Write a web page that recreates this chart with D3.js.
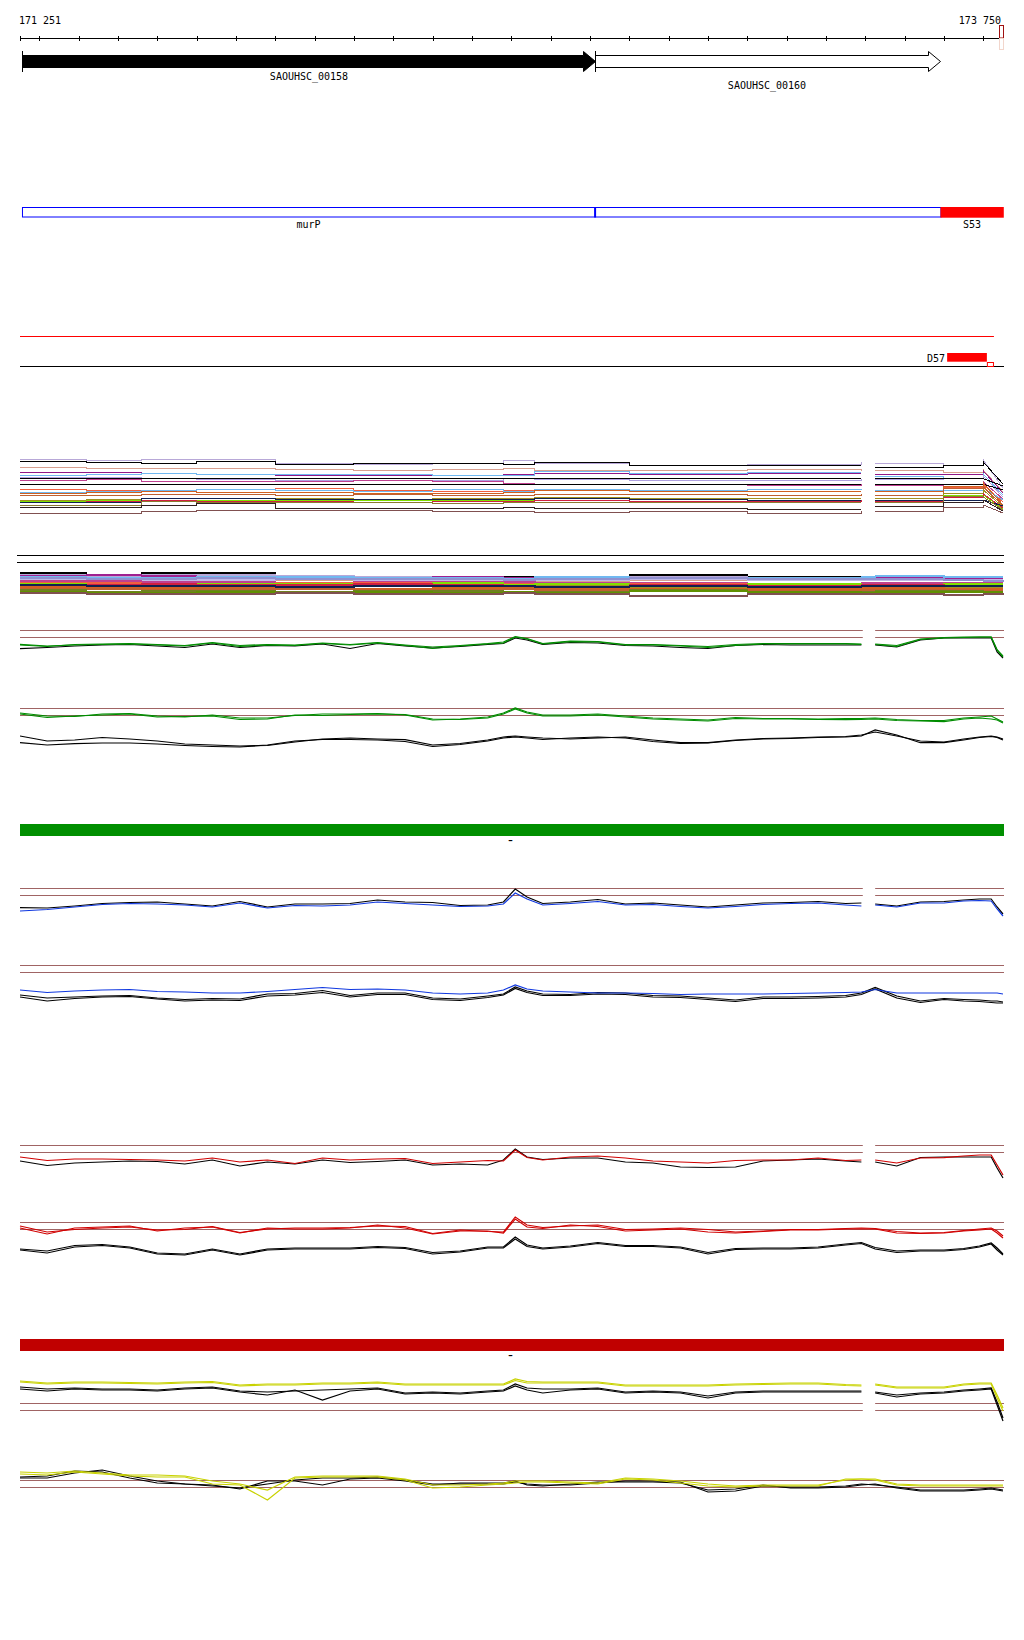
<!DOCTYPE html>
<html><head><meta charset="utf-8">
<script src="https://cdn.jsdelivr.net/npm/d3@7"></script>
<style>
body{margin:0;background:#fff}
svg{display:block}
text{font-family:"DejaVu Sans Mono",monospace;font-size:10px;fill:#000}
</style>
</head><body>
<svg id="c" width="1024" height="1640"></svg>
<script>
// ---------------- DATA ----------------
const regionStart = 171251, regionEnd = 173750;
const rulerLabels = ["171 251", "173 750"];
const tickStep = 100;
const gapStart = 173391, gapEnd = 173425;

const geneNames = ["SAOUHSC_00158", "SAOUHSC_00160"];
const geneStarts = [171256, 172713];
const geneEnds = [172713, 173591];

const operonNames = ["murP", "S53"];
const operonStarts = [171256, 173591];
const operonEnds = [173591, 173752];
const operonSplit = 172713;

const siteName = "D57";
const siteStart = 173608, siteEnd = 173709, siteMarkEnd = 173727;
const redLineEnd = 173727;

// sample positions (bp) for signal tracks
const pos = [171251,171320,171390,171460,171530,171600,171670,171740,171810,171880,171950,172020,172090,172160,172230,172300,172370,172440,172480,172510,172540,172580,172650,172720,172790,172860,172930,173000,173070,173140,173210,173280,173350,173390,173425,173480,173540,173600,173650,173690,173720,173735,173750];
// positions for multi-sample tracks
const posM = [171251,171420,171560,171700,171900,172100,172300,172480,172560,172800,173100,173390,173425,173600,173700,173750];

// Track A (multi-sample, 20 series)
const A1 = [9,10,9,9,13,14,13,10,13,15,14,12,13,15,10,38];
const A2 = [11.5,12,13,11.5,14,13,13,14,12,15,15,15,17,15,12,34];
const A3 = [17.5,18,18,18,19.5,20,19.5,18,20,20,19,21,20,22,20,42];
const A4 = [22,22,23,24,25,25,25,24,23,24,23,23,24,24,21,43];
const A5 = [25,24,23,24,24,24,25,25,21,23,22,22,26,28,24,45];
const A6 = [27,27,28,29,30,30,30,28,29,30,30,29,29,28,26,47];
const A7 = [28.7,28.7,28.7,28.7,28.7,28.7,28.7,28.7,28.7,28.7,28.7,28.7,28.7,28.7,28.7,36];
const A8 = [30,29.5,31,31,31,30,31,33,34,34,35,34,35,34,32,49];
const A9 = [34.3,34.3,34.3,34.3,34.3,34.3,34.3,34.3,34.3,34.3,34.3,34.3,34.3,34.3,34.3,40];
const A10 = [39.5,40,40,39,38,40,41,40,40,41,39,39,40,37,35,52];
const A11 = [42,41,40,39,40,41,39,41,39,40,39,40,40,40,38,50];
const A12 = [43,42,41,42,42,43,43,42,40,41,41,41,41,36,33,55];
const A13 = [45,45,44,44,45,44,45,45,44,44,45,44,45,38,37,56];
const A14 = [50,49,48,48,48,49,48,48,47,48,48,48,48,43,40,57];
const A15 = [51,50,50,50,50,50,50,50,50,51,50,50,50,45,45,59];
const A16 = [52,51,50,51,51,52,51,51,50,51,51,50,51,47,44,58];
const A17 = [52,52,48,48,49,49,49,49,48,49,50,50,50,50,50,56];
const A18 = [55,55,51,52,52,52,53,52,52,52,52,52,52,46,47,60];
const A19 = [57.5,57,55,53.5,58,58,58,57,58,58,59,59,56,52,50,61];
const A20 = [63,63,61,60,60,60,61,61,62,61,63,61,61,57,55,63];

// Track B (multi-sample, 18 series) + 2 reference lines
const B_ref = [5.3, 12.3];
const B1 = [23,25,23,23,26,27,27,27,27,25,27,27,27,27,27,27];
const B2 = [25,26,25,25,26,27,28,28,28,27,28,29,29,29,29,29];
const B3 = [26,25,26,27,28,28,27,28,28,29,29,28,28,28,28,28];
const B4 = [27,28,28,27,27,28,28,29,27,28,28,27,26,27,27,27];
const B5 = [29,29,30,31,30,30,30,31,31,30,30,30,30,30,31,31];
const B6 = [30,31,30,30,29,30,31,30,30,29,30,30,30,30,30,30];
const B7 = [31,31,32,32,33,32,32,32,33,33,34,33,33,33,32,32];
const B8 = [33,33,34,34,33,33,34,34,35,34,35,35,35,35,35,35];
const B9 = [34,35,35,34,34,34,33,35,34,35,34,35,35,34,34,34];
const B10 = [35,35,34,35,35,34,35,36,36,35,36,35,35,36,36,36];
const B11 = [36,36,37,36,37,36,37,37,36,37,38,37,37,37,37,37];
const B12 = [37,38,38,37,38,39,38,38,39,39,39,38,38,39,39,39];
const B13 = [35,36,36,36,37,36,36,36,37,36,37,36,36,36,36,36];
const B14 = [39,39,40,39,39,40,40,39,40,40,41,40,40,40,41,41];
const B15 = [40,42,41,41,42,41,41,42,42,40,43,42,41,41,42,42];
const B16 = [42,43,43,42,43,42,43,42,43,41,42,43,42,42,42,42];
const B17 = [43,44,44,44,43,44,44,43,44,46,44,44,44,45,44,43];
const B18 = [28,29,29,28,29,29,29,30,29,28,29,29,29,30,31,30];

// Track C
const C_ref = [30.3, 37.3];
const C_black = [48.7,47.5,46,45,44.5,46,47.5,44,47.5,45.5,46,44,48.5,43.5,46,48,46.5,44.5,43.5,38,40,44.5,42.5,43,45.5,46,47.5,48.5,45.5,44.5,45,45,45,45,45,47,40,38,38,38,38,52,58];
const C_green2 = [45,46.5,44.5,44,43.5,44.5,45.5,42.5,45.5,44.5,45,43,44.5,42.5,45,47,45.5,43.5,42,36.5,38.5,43.5,41,41.5,44.5,44.5,45.5,46.5,44.5,43.5,43.5,43.5,43.5,44,44,45.5,39,37.5,37,37,37,50,56];
const C_green = [44.3,46,45,44.5,44,45,46,43,46.5,45,45.5,43.5,45,43,45.5,48.5,46,44,43,37,39,44,41.7,42,45,45,46,47.5,45.5,44,44,44,44,44.5,44.5,46.5,39.5,38,37.5,37,37,50,57];

// Track D
const D_ref = [8.3, 15.3];
const D_green = [14,17.5,16,15,14,17,16.5,16,19.5,19,15,15.5,14.5,14,14.5,19,19.5,18,14,9,13,16,16,15,17,19,20,21,18.5,19,19,19.5,19.7,19.5,19,20.5,21,21.7,19,18,19,20,23];
const D_green2 = [13,16,16.5,14,13.5,16,17,15,18,18,15.5,14,14,13.5,15,20,19,17,13,8,12,15,15,14,16,18,19,20,17.5,18.5,18.5,19,18.5,18.5,18,19.5,20.5,20.5,18,17,16,19,22];
const D_black1 = [36,41,40,37.5,39,41,44,45,46,45.5,42,39,38,39,39.7,45,43.5,40,37,36,37,38,39,38,37,40,42.7,42.7,40,38.5,38,37,36.5,35,32,36,41,42,39,37,36,37,39];
const D_black2 = [42.7,45,43.7,43,43,44,45.5,46.5,47,45,41,39.5,39.5,40,41.5,46.5,44.5,41,38,37,38,39.5,38,37,38,41.5,43.5,43,40.5,39,38.5,37.5,37,36,30,35,42.7,42.7,40,37.5,36.5,37.5,40];

// Track E
const E_ref = [8.3, 15.3];
const E_black = [27.7,28,26,23.5,22.5,22,24,26,21.5,27,24,24,23.5,20,22,22.5,25.5,25,22,9,17,23.5,22,19.5,24,23,25,27,25,23,22.5,21.5,23.5,23,24,26,22,21.5,20,19,19,27,34];
const E_blue = [31,29.5,27,24.5,23.5,24,25,27,23,28,25.5,26,25,22,23.5,25,26.5,26,24,13,19,25,23.5,21.5,25,24.5,26.5,28,26.5,24.5,23.5,23,25,26,25,27,23,23,21,20.5,21,29,36];

// Track F
const F_ref = [5.3, 12.3];
const F_black1 = [35,38,37,36,35.5,38,39.5,38.5,39,34,33.5,30.5,35.5,33,33,38,39,36,34,27,31,34,34.5,32.5,33,35.5,36,38,40,37,37,36.5,35.5,33,27.5,36,41,38.5,39.5,40,41,41,42];
const F_black2 = [37,41,38.5,37,36.5,39,41,40,40.5,36,35,32.5,37,34.5,34.5,39.5,40.5,37.5,35,28.5,32.5,35.5,35.5,34,34.5,37,37.5,39.5,41.5,38.5,38.5,38,37,34.5,29,38,42.5,39.5,41,41.5,42.5,43,43];
const F_blue = [30,32.5,31,30,29.5,31.5,32,33,33,31.5,29.5,27.5,29.5,29,30,33,34,33,30,25,29,31,32,33,33,33.5,34.5,34,34,34,33.5,33,32.5,32,29.5,33,33,33,33,33,33,33,34];

// Track G
const G_ref = [5, 12.3];
const G_black = [21,25.5,23,22,21,21.5,24,20,26,22,24,20,22.5,21.5,20,25,24,25,20,9,17,19.5,18,18,22,23,27,27.5,27,21,20,19,21,22,22,26,17.5,17,17,17,17,28,38];
const G_red = [17,20.5,19,19,19.5,20,21,18,22,20,23.5,18,20,19,18.5,23.5,22,20.5,21,10,17.5,20,17,16,18,21,22,23,20.5,20,20,18,20.5,20,20,23,18,17.7,16,15,15,25,35];

// Track H
const H_ref = [12.3, 19.3];
const H_black = [39,41,35.5,34.5,37,43,44,39,44,39,38,38,38,36.5,37.5,42.5,41,37,37,27,35,38,36,32.5,35.5,35.5,37,42.5,38.5,38,38,37,34,32.5,37.5,41,40,40,38.5,36,33,38,44];
const H_black2 = [40,43,37,35.5,38,44,45,40,45,40,39,39,39,37.5,38.5,44,42,38,38,29,36.5,39,37,33.5,36.5,36.5,38,44,39.5,39,39,38,35,33.5,39,42.5,41,41,39.5,37,34,40,45];
const H_red = [16,22,19.5,18,17,20,19.5,16.5,22.5,19,18,18,17.5,16,16.5,23.5,20,21.5,22,7,15,17.5,16,15,19.5,19,18,19.5,22,21,19.5,19.5,18.5,18,18.5,21.5,23,22.5,20.5,19,18,21,26];
const H_red2 = [18,24,18,17,16,21,18,17,23,18,19,19,18,15,18,24,21,21,23,9,17,18.5,15,16.5,21,20,19,22,23,21.5,20,20,19,19,19,23,23.5,23,21,20,19,23,28];

// Track I
const I_ref = [33, 40];
const I_black = [17,19,18,19,19,20,18,17,21,22,21,20,19,18,23,22,23,21,20,14,18,19,19,18,22,21,22,26,22,21,21,21,21,21,22,25,23,22,20,19,18,32,48];
const I_black2 = [19,21,19,20,20,21,19,18,22,25,20,30,21,19,24,23,24,22,21,16,20,23,20,19,23,22,23,28,23,22,22,22,22,22,23,27,24,23,21,20,19,35,51];
const I_yellow = [11,13,12,12,12.5,13,12,11.5,15,14,14,13,13,12,14,14,14,14,14,9,11.5,12,12,12,15,15,15,15,14,13.5,13,13,14.5,15,14,17,17,17,14,13,13,25,38];
const I_yellow2 = [12,14,13,13,13.5,14,13,12.5,16,15,15,14,14,13,15,15,15,15,15,10.5,13,13,13,13,16,16,16,16,15,14.5,14,14,15.5,16,15,18,18,18,15,14,14,28,41];

// Track J
const J_ref = [20.3, 27.3];
const J_black = [17,16,11,12,18,23,24,26,28,24,20,18,18,17,20,24,24,24,24,22,24,25,25,23,21,21,22,32,31,26,27,27,26,24,25,27,30,30,30,29,28,29,30];
const J_black2 = [18,18,13,10,16,21,24,25,29,21,21,25,19,18,21,25,23,23,23,21,25,26,24,22,22,22,23,30,29,25,28,28,27,25,24,28,31,31,31,30,29,30,31];
const J_yellow = [14,15,12,14,16,17,17,24,25,40,18,17,17,17,20,28,27,25,24,23,22,22,23,24,19,20,23,26,27,26,26,26,19,19,20,25,26,26,26,26,26,26,26];
const J_yellow2 = [12,13,11,13,15,15,16,21,24,30,17,16,16,16,19,25,25,24,23,21,21,21,22,23,18,19,21,24,26,25,25,25,20,19,19,24,25,25,25,25,25,25,25];

// ---------------- DRAWING ----------------
const svg = d3.select("#c");
const x = d3.scaleLinear().domain([regionStart, regionEnd]).range([20, 1003]);

// Ruler
const ruler = svg.append("g");
ruler.append("line").attr("x1", x(regionStart)).attr("x2", x(regionEnd) - 3)
  .attr("y1", 38.5).attr("y2", 38.5).attr("stroke", "#000");
const rTicks = [regionStart].concat(d3.range(Math.ceil(regionStart / tickStep) * tickStep, regionEnd, tickStep));
ruler.selectAll("line.t").data(rTicks).join("line").attr("class", "t")
  .attr("x1", d => Math.round(x(d)) + 0.5).attr("x2", d => Math.round(x(d)) + 0.5)
  .attr("y1", 36).attr("y2", 41).attr("stroke", "#000");
ruler.append("text").attr("x", x(regionStart) - 1).attr("y", 24).text(rulerLabels[0]);
ruler.append("text").attr("x", x(regionEnd) - 2).attr("y", 24).attr("text-anchor", "end").text(rulerLabels[1]);
ruler.append("rect").attr("x", x(regionEnd) - 3.5).attr("y", 25.5).attr("width", 4).attr("height", 12.5)
  .attr("fill", "none").attr("stroke", "#a01010");
ruler.append("rect").attr("x", x(regionEnd) - 3.5).attr("y", 38.5).attr("width", 4).attr("height", 11)
  .attr("fill", "none").attr("stroke", "#f2d6cc");

// Genes
const gg = svg.append("g");
geneNames.forEach((name, i) => {
  const x0 = Math.round(x(geneStarts[i])) + 0.5, x1 = Math.round(x(geneEnds[i])) + 0.5, hl = 12;
  gg.append("path")
    .attr("d", `M${x0},55.5H${x1 - hl}V51.5L${x1},61.5L${x1 - hl},71.5V67.5H${x0}Z`)
    .attr("fill", i === 0 ? "#000" : "#fff").attr("stroke", "#000");
  gg.append("line").attr("x1", x0).attr("x2", x0).attr("y1", 51).attr("y2", 72).attr("stroke", "#000");
  gg.append("text").attr("x", (x0 + x1) / 2 + (i === 0 ? 0 : -1)).attr("y", i === 0 ? 80 : 89)
    .attr("text-anchor", "middle").text(name);
});

// Operon / feature track
const og = svg.append("g");
og.append("rect").attr("x", x(operonStarts[0]) + 0.5).attr("y", 207.5)
  .attr("width", x(operonEnds[0]) - x(operonStarts[0])).attr("height", 9.5)
  .attr("fill", "none").attr("stroke", "#0000ff");
og.append("rect").attr("x", x(operonSplit) - 1).attr("y", 207).attr("width", 2).attr("height", 10.5).attr("fill", "#0000ff");
og.append("rect").attr("x", x(operonStarts[1])).attr("y", 207)
  .attr("width", x(operonEnds[1]) - x(operonStarts[1])).attr("height", 10.7).attr("fill", "#ff0000");
og.append("text").attr("x", (x(operonStarts[0]) + x(operonSplit)) / 2).attr("y", 228).attr("text-anchor", "middle").text(operonNames[0]);
og.append("text").attr("x", (x(operonStarts[1]) + x(operonEnds[1])) / 2).attr("y", 228).attr("text-anchor", "middle").text(operonNames[1]);

// red / black lines with site
const sg = svg.append("g");
sg.append("line").attr("x1", x(regionStart)).attr("x2", x(redLineEnd)).attr("y1", 336.5).attr("y2", 336.5).attr("stroke", "#ff0000");
sg.append("line").attr("x1", x(regionStart)).attr("x2", x(regionEnd) + 1).attr("y1", 366.5).attr("y2", 366.5).attr("stroke", "#000");
sg.append("rect").attr("x", x(siteStart)).attr("y", 353).attr("width", x(siteEnd) - x(siteStart)).attr("height", 8.7).attr("fill", "#ff0000");
sg.append("rect").attr("x", x(siteEnd) + 0.5).attr("y", 362.5).attr("width", x(siteMarkEnd) - x(siteEnd) - 1).attr("height", 4)
  .attr("fill", "none").attr("stroke", "#ff0000");
sg.append("text").attr("x", x(siteStart) - 2).attr("y", 361.7).attr("text-anchor", "end").text(siteName);

// generic signal track
function signalTrack(cfg) {
  const y = d3.scaleLinear().domain([0, 100]).range([cfg.base, cfg.base + 100]);
  const g = svg.append("g");
  const segs = cfg.gap ? [[regionStart, gapStart], [gapEnd, regionEnd]] : [[regionStart, regionEnd]];
  const pad = cfg.pad || 0;
  (cfg.refs || []).forEach(r => segs.forEach((s, k) => {
    g.append("line").attr("x1", x(s[0]) - (k === 0 ? pad : 0)).attr("x2", x(s[1]) + 1)
      .attr("y1", Math.round(y(r)) + 0.5).attr("y2", Math.round(y(r)) + 0.5)
      .attr("stroke", cfg.refColor || "#a06464");
  }));
  const line = d3.line().x(d => x(d[0])).y(d => y(d[1])).curve(cfg.curve || d3.curveLinear);
  cfg.series.forEach((vals, i) => {
    const n = Math.min(vals.length, cfg.pos.length);
    const pts = d3.range(n).map(j => [cfg.pos[j], vals[j]]);
    segs.forEach(s => {
      const sp = pts.filter(d => d[0] >= s[0] && d[0] <= s[1]);
      if (sp.length < 2) return;
      let dStr;
      if (cfg.linearTail && sp[sp.length - 1][0] === regionEnd) {
        const last = sp[sp.length - 1];
        dStr = line(sp.slice(0, -1)) + "L" + x(last[0]) + "," + y(last[1]);
      } else dStr = line(sp);
      g.append("path").attr("d", dStr).attr("fill", "none")
        .attr("stroke", cfg.colors[i]).attr("stroke-width", cfg.sw || 1.2)
        .attr("shape-rendering", cfg.crisp ? "crispEdges" : "auto");
    });
  });
}

const multiColors = ["#b8a8d8","#000000","#d8a090","#901888","#70b8f0","#b0a0e0","#000000","#c04090","#000000","#f06040","#70b8f0","#d06020","#c06030","#a09020","#80e000","#d02040","#102050","#8a7a30","#302020","#805050"];
signalTrack({ base: 450, pos: posM, gap: true, curve: d3.curveStepAfter, linearTail: true, sw: 1, crisp: true,
  series: [A1,A2,A3,A4,A5,A6,A7,A8,A9,A10,A11,A12,A13,A14,A15,A16,A17,A18,A19,A20], colors: multiColors });

const multiColorsB = ["#000000","#b8a8d8","#a02090","#70b8f0","#d8a090","#c0b8e8","#c04090","#f06040","#80e000","#d02040","#a09020","#d06020","#102050","#c06030","#708020","#609000","#805050","#9090d0"];
signalTrack({ base: 550, pos: posM, gap: false, curve: d3.curveStepAfter, sw: 1.2, crisp: true, refs: B_ref, refColor: "#000", pad: 3,
  series: [B1,B2,B3,B4,B5,B6,B7,B8,B9,B10,B11,B12,B13,B14,B15,B16,B17,B18], colors: multiColorsB });

const GREEN = "#008c00", BLUE = "#1038e0", RED = "#d00000", YEL = "#c8d200";
signalTrack({ base: 600, pos, gap: true, refs: C_ref, series: [C_black, C_green2, C_green], colors: ["#000", GREEN, GREEN] });
signalTrack({ base: 700, pos, gap: false, refs: D_ref, series: [D_green, D_green2, D_black1, D_black2], colors: [GREEN, GREEN, "#000", "#000"] });

// green bar
svg.append("rect").attr("x", x(regionStart)).attr("y", 824).attr("width", x(regionEnd) - x(regionStart) + 1).attr("height", 12).attr("fill", "#008f00");
svg.append("text").attr("x", 510.5).attr("y", 845).attr("text-anchor", "middle").style("font-size", "14px").text("-");

signalTrack({ base: 880, pos, gap: true, refs: E_ref, series: [E_black, E_blue], colors: ["#000", BLUE] });
signalTrack({ base: 960, pos, gap: false, refs: F_ref, series: [F_black1, F_black2, F_blue], colors: ["#000", "#000", BLUE] });
signalTrack({ base: 1140, pos, gap: true, refs: G_ref, series: [G_black, G_red], colors: ["#000", RED] });
signalTrack({ base: 1210, pos, gap: false, refs: H_ref, series: [H_red, H_red2, H_black, H_black2], colors: [RED, RED, "#000", "#000"] });

// red bar
svg.append("rect").attr("x", x(regionStart)).attr("y", 1339).attr("width", x(regionEnd) - x(regionStart) + 1).attr("height", 12).attr("fill", "#c00000");
svg.append("text").attr("x", 510.5).attr("y", 1360).attr("text-anchor", "middle").style("font-size", "14px").text("-");

signalTrack({ base: 1370, pos, gap: true, refs: I_ref, series: [I_black, I_black2, I_yellow, I_yellow2], colors: ["#000", "#000", YEL, YEL] });
signalTrack({ base: 1460, pos, gap: false, refs: J_ref, series: [J_black, J_black2, J_yellow, J_yellow2], colors: ["#000", "#000", YEL, YEL] });
</script>
</body></html>
